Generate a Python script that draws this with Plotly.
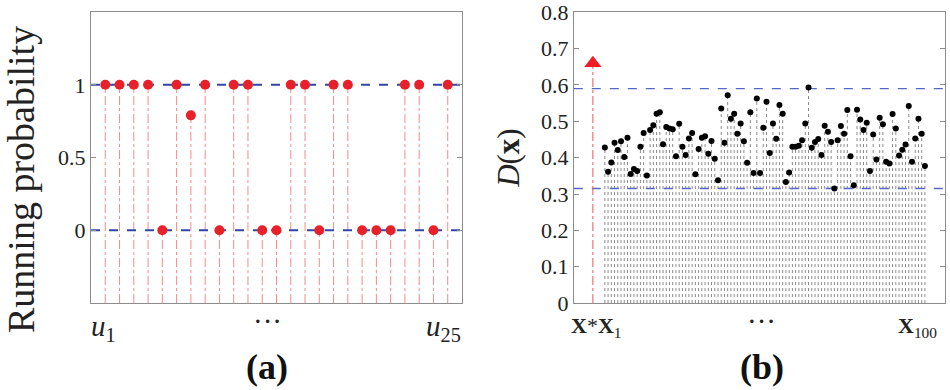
import plotly.graph_objects as go

# ---------------- data ----------------
# panel (a): running probability of u1..u25
u_index = list(range(1, 26))
running_prob = [1, 1, 1, 1, 0, 1, 0.79, 1, 0, 1, 1, 0, 0, 1, 1, 0, 1, 1, 0, 0, 0, 1, 1, 0, 1]
ref_levels_a = [0, 1]
yticks_a = [0, 0.5, 1]
yticklabels_a = ["0", "0.5", "1"]

# panel (b): D(x) for x1..x100 and x*
x_index = list(range(1, 101))
d_values = [
    0.428, 0.361, 0.387, 0.441, 0.421, 0.445, 0.402, 0.455, 0.355, 0.369,
    0.363, 0.430, 0.468, 0.351, 0.476, 0.489, 0.521, 0.525, 0.437, 0.484,
    0.480, 0.478, 0.404, 0.493, 0.430, 0.407, 0.453, 0.468, 0.354, 0.424,
    0.455, 0.459, 0.411, 0.446, 0.397, 0.338, 0.535, 0.441, 0.572, 0.507,
    0.521, 0.466, 0.494, 0.445, 0.386, 0.525, 0.358, 0.563, 0.358, 0.482,
    0.554, 0.413, 0.494, 0.452, 0.545, 0.521, 0.333, 0.359, 0.430, 0.430,
    0.433, 0.448, 0.494, 0.593, 0.427, 0.443, 0.451, 0.407, 0.488, 0.471,
    0.443, 0.315, 0.448, 0.487, 0.466, 0.531, 0.404, 0.324, 0.532, 0.505,
    0.476, 0.496, 0.363, 0.464, 0.395, 0.510, 0.492, 0.389, 0.384, 0.520,
    0.480, 0.406, 0.422, 0.436, 0.542, 0.389, 0.453, 0.507, 0.466, 0.377,
]
x_star_pos = -2.7
d_star = 0.66
ref_levels_b = [0.315, 0.59]
yticks_b = [0, 0.1, 0.2, 0.3, 0.4, 0.5, 0.6, 0.7, 0.8]
yticklabels_b = ["0", "0.1", "0.2", "0.3", "0.4", "0.5", "0.6", "0.7", "0.8"]

# ---------------- styling ----------------
SERIF = "Liberation Serif, Times New Roman, serif"
AX_COL = "#8c8c8c"
RED = "#e8202a"
BLUE_A = "#3145a8"
BLUE_B = "#5566c4"
YMIN_A, YMAX_A = -0.5, 1.5
XMIN_A, XMAX_A = 0, 26
YMIN_B, YMAX_B = 0, 0.8005
XMIN_B, XMAX_B = -8.6, 106.2

fig = go.Figure()

# ---- panel (a) ----
sx, sy = [], []
for xi, v in zip(u_index, running_prob):
    sx += [xi, xi, None]
    sy += [YMIN_A, v, None]
fig.add_trace(go.Scatter(x=sx, y=sy, mode="lines", xaxis="x", yaxis="y",
                         line=dict(color="rgba(240,100,100,0.75)", width=1, dash="dashdot"),
                         hoverinfo="skip", showlegend=False))
for lv in ref_levels_a:
    fig.add_trace(go.Scatter(x=[XMIN_A, XMAX_A], y=[lv, lv], mode="lines", xaxis="x", yaxis="y",
                             line=dict(color=BLUE_A, width=2, dash="dash"),
                             hoverinfo="skip", showlegend=False))
fig.add_trace(go.Scatter(x=u_index, y=running_prob, mode="markers", xaxis="x", yaxis="y",
                         marker=dict(color=RED, size=10), showlegend=False))

# ---- panel (b) ----
bx, by = [], []
for xi, v in zip(x_index, d_values):
    bx += [xi, xi, None]
    by += [YMIN_B, v, None]
fig.add_trace(go.Scatter(x=bx, y=by, mode="lines", xaxis="x2", yaxis="y2",
                         line=dict(color="#8a8a8a", width=1, dash="dot"),
                         hoverinfo="skip", showlegend=False))
for lv in ref_levels_b:
    fig.add_trace(go.Scatter(x=[XMIN_B, XMAX_B], y=[lv, lv], mode="lines", xaxis="x2", yaxis="y2",
                             line=dict(color=BLUE_B, width=1.4, dash="dash"),
                             hoverinfo="skip", showlegend=False))
fig.add_trace(go.Scatter(x=[x_star_pos, x_star_pos], y=[YMIN_B, d_star], mode="lines",
                         xaxis="x2", yaxis="y2",
                         line=dict(color="#ee5555", width=1, dash="dashdot"),
                         hoverinfo="skip", showlegend=False))
fig.add_trace(go.Scatter(x=x_index, y=d_values, mode="markers", xaxis="x2", yaxis="y2",
                         marker=dict(color="black", size=6), showlegend=False))
fig.add_trace(go.Scatter(x=[x_star_pos], y=[d_star], mode="markers", xaxis="x2", yaxis="y2",
                         marker=dict(color="#ee1c24", size=15, symbol="triangle-up"),
                         showlegend=False))

axis_common = dict(showline=True, linecolor=AX_COL, linewidth=1, mirror="ticks",
                   showgrid=False, zeroline=False, ticks="inside", ticklen=5,
                   tickcolor=AX_COL, ticklabeloverflow="allow", automargin=False,
                   tickfont=dict(family=SERIF, size=22, color="#222"))
xaxis_common = {k: v for k, v in axis_common.items() if k != "ticks"}

fig.update_layout(
    width=950, height=390, autosize=False,
    margin=dict(l=0, r=0, t=0, b=0, autoexpand=False),
    paper_bgcolor="white", plot_bgcolor="white",
    xaxis=dict(domain=[0.0958, 0.4863], range=[XMIN_A, XMAX_A],
               showticklabels=False, ticks="", **xaxis_common),
    yaxis=dict(domain=[0.223, 0.969], range=[YMIN_A, YMAX_A],
               tickvals=yticks_a, ticktext=yticklabels_a, **axis_common),
    xaxis2=dict(domain=[0.604, 0.9947], range=[XMIN_B, XMAX_B],
                showticklabels=False, ticks="", anchor="y2", **xaxis_common),
    yaxis2=dict(domain=[0.223, 0.969], range=[YMIN_B, YMAX_B],
                tickvals=yticks_b, ticktext=yticklabels_b, anchor="x2", **axis_common,
                title=dict(text="<i>D</i>(<b>x</b>)", standoff=12,
                           font=dict(family=SERIF, size=31, color="#222"))),
)

def px_x(p):
    return p / 950.0

def px_y(p):
    return 1 - p / 390.0

lab_font = dict(family=SERIF, size=29, color="#222")
xlab_font = dict(family=SERIF, size=22, color="#222")
bold_font = dict(family=SERIF, size=36, color="#111")
ann_specs = [
    (21, 180, "Running probability", dict(family=SERIF, size=38, color="#222"), -90),
    (103, 328, "<i>u</i><sub>1</sub>", lab_font, 0),
    (267, 321, "···", lab_font, 0),
    (443, 328, "<i>u</i><sub>25</sub>", lab_font, 0),
    (267, 367, "<b>(a)</b>", bold_font, 0),
    (596, 327, "<b>X</b>*<b>X</b><sub>1</sub>", xlab_font, 0),
    (761, 321, "···", lab_font, 0),
    (917, 327, "<b>X</b><sub>100</sub>", xlab_font, 0),
    (762, 367, "<b>(b)</b>", bold_font, 0),
]
annotations = [
    dict(x=px_x(xp), y=px_y(yp), xref="paper", yref="paper",
         xanchor="center", yanchor="middle", text=t, showarrow=False,
         font=f, textangle=ang)
    for xp, yp, t, f, ang in ann_specs
]
fig.update_layout(annotations=annotations)

fig.write_html("out.html", config={"displayModeBar": False, "responsive": False},
               post_script="document.body.style.margin='0';document.body.style.padding='0';")
